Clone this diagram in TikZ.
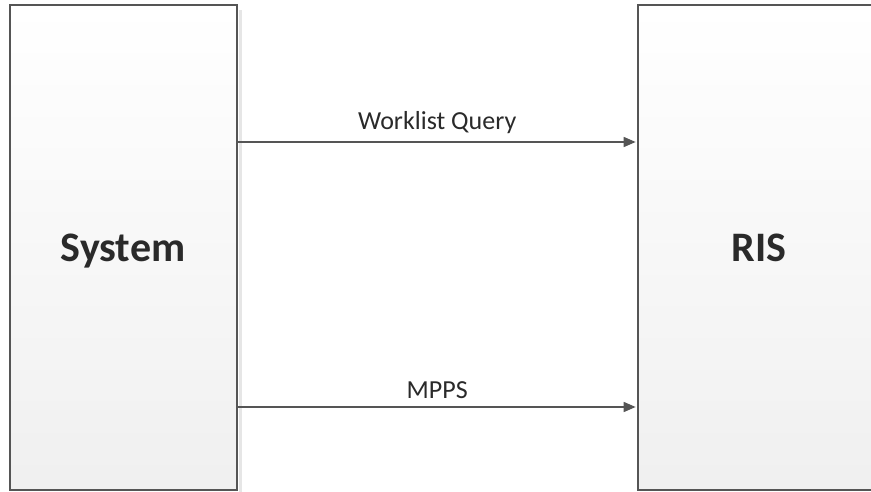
\documentclass[tikz,border=0pt]{standalone}
\usepackage{fontspec}
\setmainfont{Carlito}
\usetikzlibrary{arrows.meta,calc}
\definecolor{edge}{HTML}{555555}
\definecolor{txt}{HTML}{2A2A2A}
\definecolor{shadowc}{HTML}{E6E6E6}
\tikzset{
  box/.style={rectangle, draw=edge, line width=1.5pt, top color=white, bottom color=black!6,
    inner sep=0pt, text depth=0pt, font=\fontsize{31.5}{36}\selectfont\bfseries, text=txt},
  arr/.style={draw=edge, line width=1.1pt, shorten >=1pt, -{Triangle[length=9pt,width=7.5pt]}},
  lbl/.style={font=\fontsize{19.5}{23}\selectfont, text=txt, inner sep=0pt}
}
\begin{document}
\begin{tikzpicture}[x=0.75pt,y=-0.75pt]
\useasboundingbox (0,0) rectangle (871,492);
\clip (0,0) rectangle (871,492);
% shadow
\fill[shadowc] (238.5,10) rectangle (241.5,494);
\node[box, minimum width=170.25pt, minimum height=363pt] (sys) at (123,247.5) {System};
\node[box, minimum width=181.5pt, minimum height=363pt] (ris) at (759,247.5) {RIS};
\coordinate (r1) at (0,142);
\coordinate (r2) at (0,407);
\draw[arr] (sys.east |- r1) -- (ris.west |- r1)
  node[lbl, midway, above=6pt] {Worklist Query};
\draw[arr] (sys.east |- r2) -- (ris.west |- r2)
  node[lbl, midway, above=6pt] {MPPS};
\end{tikzpicture}
\end{document}
